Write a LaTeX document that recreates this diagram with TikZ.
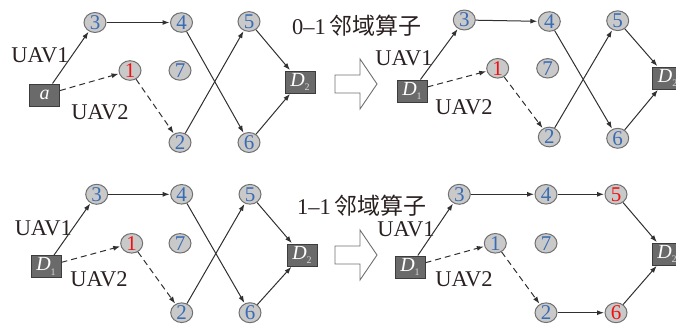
\documentclass[tikz,border=0pt]{standalone}
\usepackage{fontspec}
\setmainfont{Liberation Serif}
\newfontfamily\cjk{Noto Sans CJK SC}
\usetikzlibrary{arrows.meta,shapes.geometric}
\definecolor{nodefill}{HTML}{C9C9C9}
\definecolor{nodeline}{HTML}{707070}
\definecolor{numblue}{HTML}{3A6CB4}
\definecolor{numred}{HTML}{F01010}
\definecolor{boxfill}{HTML}{6A6A6A}
\definecolor{boxline}{HTML}{3C3C3C}
\definecolor{edgecol}{HTML}{303030}
\definecolor{txtcol}{HTML}{2A2020}
\tikzset{
  city/.style={ellipse, draw=nodeline, fill=nodefill, line width=1pt,
    minimum width=22pt, minimum height=17pt, inner sep=0pt,
    font=\fontsize{21}{21}\selectfont, text=numblue},
  redcity/.style={city, text=numred},
  depot/.style={rectangle, draw=boxline, fill=boxfill, line width=1pt,
    minimum width=30pt, minimum height=22pt, inner sep=0pt,
    font=\fontsize{20}{20}\selectfont\itshape, text=white},
  lbl/.style={font=\fontsize{22.5}{22.5}\selectfont, text=txtcol, inner sep=0pt},
  edge/.style={draw=edgecol, line width=1pt, -{Latex[length=7pt,width=5pt]}, shorten >=0.5pt},
  dedge/.style={edge, dash pattern=on 6pt off 4pt},
  bigarrow/.style={draw=nodeline, fill=white, line width=0.9pt, line join=miter}
}
\newcommand{\dsub}[1]{D\raisebox{-0.45ex}{\fontsize{10}{10}\selectfont\upshape\color{black!15} #1}}
\begin{document}
\begin{tikzpicture}[x=1pt,y=-1pt]
\useasboundingbox (0,0) rectangle (676,332);
% ---------- panel 1 ----------
\node[city] (a3) at (95,22.5) {3};
\node[city] (a4) at (181.5,22.5) {4};
\node[city] (a5) at (249,21.5) {5};
\node[redcity] (a1) at (130,70.5) {1};
\node[city] (a7) at (180,70.5) {7};
\node[city] (a2) at (180,142.5) {2};
\node[city] (a6) at (249,142.5) {6};
\node[depot] (aS) at (44.5,95) {a};
\node[depot] (aE) at (300,82) {\dsub{2}};
\node[lbl] (aL1) at (40,55) {UAV1};
\node[lbl] (aL2) at (100,112) {UAV2};
\draw[edge] (aS) -- (a3);
\draw[edge] (a3) -- (a4);
\draw[edge] (a4) -- (a6);
\draw[edge] (a6) -- (aE);
\draw[edge] (a2) -- (a5);
\draw[edge] (a5) -- (aE);
\draw[dedge] (aS) -- (a1);
\draw[dedge] (a1) -- (a2);
% operator text and arrow (top)
\node[lbl, anchor=west] (t1) at (292,26) {0–1\,{\cjk\fontsize{23}{23}\selectfont 邻域算子}};
\draw[bigarrow] (335,75) -- (360,75) -- (360,59) -- (377,84) -- (360,109) -- (360,93) -- (335,93) -- cycle;
% ---------- panel 2 ----------
\node[city] (b3) at (464.3,20) {3};
\node[city] (b4) at (549.3,21.5) {4};
\node[city] (b5) at (617.7,20.7) {5};
\node[redcity] (b1) at (497.7,68.3) {1};
\node[city] (b7) at (547.7,68.3) {7};
\node[city] (b2) at (549.3,137) {2};
\node[city] (b6) at (617.7,138.3) {6};
\node[depot] (bS) at (412,91) {\dsub{1}};
\node[depot] (bE) at (667.7,78) {\dsub{2}};
\node[lbl] (bL1) at (404,58) {UAV1};
\node[lbl] (bL2) at (464,107) {UAV2};
\draw[edge] (bS) -- (b3);
\draw[edge] (b3) -- (b4);
\draw[edge] (b4) -- (b6);
\draw[edge] (b6) -- (bE);
\draw[edge] (b2) -- (b5);
\draw[edge] (b5) -- (bE);
\draw[dedge] (bS) -- (b1);
\draw[dedge] (b1) -- (b2);
% ---------- panel 3 ----------
\node[city] (c3) at (96.7,194.3) {3};
\node[city] (c4) at (181.7,194.3) {4};
\node[city] (c5) at (250,194.3) {5};
\node[redcity] (c1) at (131.7,243.3) {1};
\node[city] (c7) at (180,243.3) {7};
\node[city] (c2) at (181.7,312.7) {2};
\node[city] (c6) at (250,312.7) {6};
\node[depot] (cS) at (46,266.5) {\dsub{1}};
\node[depot] (cE) at (302,255) {\dsub{2}};
\node[lbl] (cL1) at (43.3,228) {UAV1};
\node[lbl] (cL2) at (99,279) {UAV2};
\draw[edge] (cS) -- (c3);
\draw[edge] (c3) -- (c4);
\draw[edge] (c4) -- (c6);
\draw[edge] (c6) -- (cE);
\draw[edge] (c2) -- (c5);
\draw[edge] (c5) -- (cE);
\draw[dedge] (cS) -- (c1);
\draw[dedge] (c1) -- (c2);
% operator text and arrow (bottom)
\node[lbl, anchor=west] (t2) at (297,206) {1–1\,{\cjk\fontsize{23}{23}\selectfont 邻域算子}};
\draw[bigarrow] (335,246) -- (360,246) -- (360,230) -- (377,255) -- (360,280) -- (360,264) -- (335,264) -- cycle;
% ---------- panel 4 ----------
\node[city] (d3) at (459.3,194.3) {3};
\node[city] (d4) at (546,194.3) {4};
\node[redcity] (d5) at (616,194.3) {5};
\node[city] (d1) at (495.3,243.3) {1};
\node[city] (d7) at (546,243.3) {7};
\node[city] (d2) at (546,312.7) {2};
\node[redcity] (d6) at (616,312.7) {6};
\node[depot] (dS) at (410,267) {\dsub{1}};
\node[depot] (dE) at (667,254) {\dsub{2}};
\node[lbl] (dL1) at (406,229.7) {UAV1};
\node[lbl] (dL2) at (464,279.7) {UAV2};
\draw[edge] (dS) -- (d3);
\draw[edge] (d3) -- (d4);
\draw[edge] (d4) -- (d5);
\draw[edge] (d5) -- (dE);
\draw[dedge] (dS) -- (d1);
\draw[dedge] (d1) -- (d2);
\draw[edge] (d2) -- (d6);
\draw[edge] (d6) -- (dE);
\end{tikzpicture}
\end{document}
